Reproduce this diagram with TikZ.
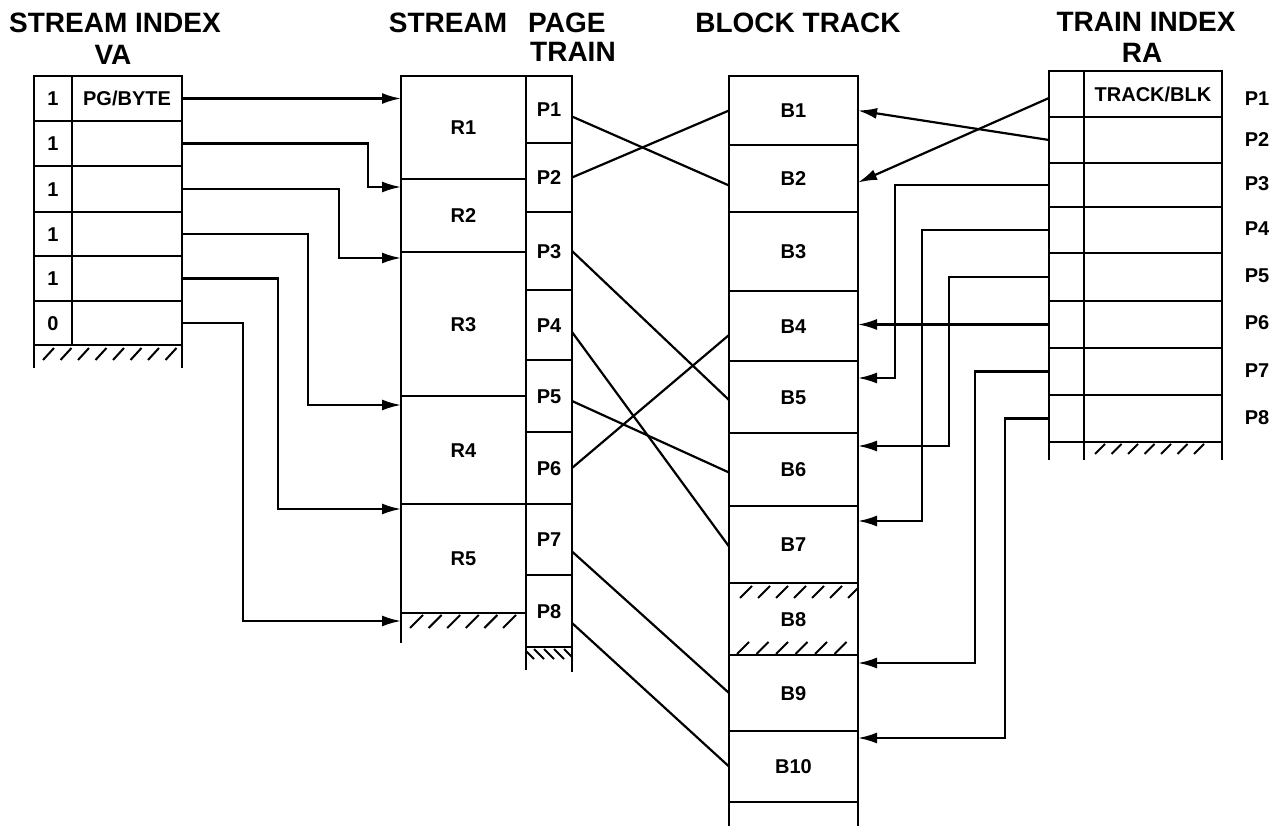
\documentclass[tikz,border=0pt]{standalone}
\usepackage{fontspec}
\setmainfont{Liberation Sans}
\usetikzlibrary{arrows.meta}
\tikzset{
  box/.style={draw, line width=2.6pt},
  cell/.style={draw, line width=2.6pt, inner sep=0pt, outer sep=0pt,
    font=\bfseries\fontsize{20}{20}\selectfont, text height=14.3pt, text depth=0pt},
  conn/.style={line width=2.2pt},
  arr/.style={conn, -{Latex[length=19pt,width=11pt]}},
  title/.style={font=\bfseries\fontsize{28}{28}\selectfont, inner sep=0pt, text height=20pt, text depth=0pt},
  side/.style={font=\bfseries\fontsize{20}{20}\selectfont, inner sep=0pt, text height=14.3pt, text depth=0pt},
  hatch/.style={line width=2pt},
}
\newcommand{\cellbox}[6]{\node[cell, minimum width={(#4-#2)*1pt}, minimum height={(#5-#3)*1pt}] (#1) at ({(#2+#4)/2},{(#3+#5)/2}) {#6};}
\begin{document}
\begin{tikzpicture}[x=1pt,y=-1pt]
\useasboundingbox (0,0) rectangle (1288,826);
\fill[white] (0,0) rectangle (1288,826);

% ---------- titles
\node[title] (tsi) at (115,23) {STREAM INDEX};
\node[title] (tva) at (113,55) {VA};
\node[title] (tst) at (448,23) {STREAM};
\node[title, anchor=west] (tpg) at (528,23) {PAGE};
\node[title, anchor=west] (ttr) at (530,52) {TRAIN};
\node[title] (tbt) at (798,23) {BLOCK TRACK};
\node[title] (tti) at (1146,22) {TRAIN INDEX};
\node[title] (tra) at (1142,53) {RA};

% ---------- stream index VA
\cellbox{c1}{34}{76}{72}{121}{1}
\cellbox{c2}{34}{121}{72}{166}{1}
\cellbox{c3}{34}{166}{72}{212}{1}
\cellbox{c4}{34}{212}{72}{256}{1}
\cellbox{c5}{34}{256}{72}{301}{1}
\cellbox{c6}{34}{301}{72}{345}{0}
\cellbox{s1}{72}{76}{182}{121}{PG/BYTE}
\cellbox{s2}{72}{121}{182}{166}{}
\cellbox{s3}{72}{166}{182}{212}{}
\cellbox{s4}{72}{212}{182}{256}{}
\cellbox{s5}{72}{256}{182}{301}{}
\cellbox{s6}{72}{301}{182}{345}{}
\draw[box] (c6.south west) -- ++(0,23);
\draw[box] (s6.south east) -- ++(0,23);
\foreach \x in {43,60.5,...,166} \draw[hatch] (\x,360) -- ++(11,-12);

% ---------- stream
\cellbox{r1}{401}{76}{526}{179}{R1}
\cellbox{r2}{401}{179}{526}{252}{R2}
\cellbox{r3}{401}{252}{526}{396}{R3}
\cellbox{r4}{401}{396}{526}{504}{R4}
\cellbox{r5}{401}{504}{526}{613}{R5}
\draw[box] (r5.south west) -- ++(0,30);
\foreach \x in {410,428.6,...,504} \draw[hatch] (\x,628) -- ++(13,-13);

% ---------- page train
\cellbox{p1}{526}{76}{572}{143}{P1}
\cellbox{p2}{526}{143}{572}{212}{P2}
\cellbox{p3}{526}{212}{572}{290}{P3}
\cellbox{p4}{526}{290}{572}{360}{P4}
\cellbox{p5}{526}{360}{572}{432}{P5}
\cellbox{p6}{526}{432}{572}{504}{P6}
\cellbox{p7}{526}{504}{572}{575}{P7}
\cellbox{p8}{526}{575}{572}{647}{P8}
\draw[box] (p8.south west) -- ++(0,23);
\draw[box] (p8.south east) -- ++(0,25);
\begin{scope}
  \clip (527,647) rectangle (571,672);
  \foreach \x in {524,534,...,564} \draw[hatch] (\x,649) -- ++(10,10);
\end{scope}

% ---------- block track
\cellbox{b1}{729}{76}{858}{145}{B1}
\cellbox{b2}{729}{145}{858}{212}{B2}
\cellbox{b3}{729}{212}{858}{291}{B3}
\cellbox{b4}{729}{291}{858}{361}{B4}
\cellbox{b5}{729}{361}{858}{433}{B5}
\cellbox{b6}{729}{433}{858}{506}{B6}
\cellbox{b7}{729}{506}{858}{583}{B7}
\cellbox{b8}{729}{583}{858}{655}{B8}
\cellbox{b9}{729}{655}{858}{731}{B9}
\cellbox{b10}{729}{731}{858}{802}{B10}
\draw[box] (b10.south west) -- ++(0,24);
\draw[box] (b10.south east) -- ++(0,24);
\begin{scope}
  \clip (730,584) rectangle (857,654);
  \foreach \x in {740,758,...,850} \draw[hatch] (\x,598) -- ++(12,-12);
  \foreach \x in {737,756.5,...,836} \draw[hatch] (\x,654) -- ++(12,-12);
\end{scope}

% ---------- train index RA
\cellbox{t1}{1049}{71}{1084}{117}{}
\cellbox{t2}{1049}{117}{1084}{163}{}
\cellbox{t3}{1049}{163}{1084}{207}{}
\cellbox{t4}{1049}{207}{1084}{253}{}
\cellbox{t5}{1049}{253}{1084}{301}{}
\cellbox{t6}{1049}{301}{1084}{348}{}
\cellbox{t7}{1049}{348}{1084}{395}{}
\cellbox{t8}{1049}{395}{1084}{442}{}
\cellbox{u1}{1084}{71}{1222}{117}{TRACK/BLK}
\cellbox{u2}{1084}{117}{1222}{163}{}
\cellbox{u3}{1084}{163}{1222}{207}{}
\cellbox{u4}{1084}{207}{1222}{253}{}
\cellbox{u5}{1084}{253}{1222}{301}{}
\cellbox{u6}{1084}{301}{1222}{348}{}
\cellbox{u7}{1084}{348}{1222}{395}{}
\cellbox{u8}{1084}{395}{1222}{442}{}
\draw[box] (t8.south west) -- ++(0,18);
\draw[box] (t8.south east) -- ++(0,18);
\draw[box] (u8.south east) -- ++(0,18);
\foreach \x in {1095,1111.5,...,1208} \draw[hatch] (\x,454) -- ++(10,-10);

\node[side] (l1) at (1257,98) {P1};
\node[side] (l2) at (1257,139) {P2};
\node[side] (l3) at (1257,183) {P3};
\node[side] (l4) at (1257,228) {P4};
\node[side] (l5) at (1257,275) {P5};
\node[side] (l6) at (1257,322) {P6};
\node[side] (l7) at (1257,370) {P7};
\node[side] (l8) at (1257,417) {P8};

% ---------- stream index -> stream
\draw[arr] (s1.east) -- (s1.east -| r1.west);
\draw[arr] (s2.east) -| ([xshift=-33pt,yshift=-8pt]r2.north west) -- ([yshift=-8pt]r2.north west);
\draw[arr] (s3.east) -| ([xshift=-62pt,yshift=-6pt]r3.north west) -- ([yshift=-6pt]r3.north west);
\draw[arr] (s4.east) -| ([xshift=-93pt,yshift=-9pt]r4.north west) -- ([yshift=-9pt]r4.north west);
\draw[arr] (s5.east) -| ([xshift=-123pt,yshift=-5pt]r5.north west) -- ([yshift=-5pt]r5.north west);
\draw[arr] (s6.east) -| ([xshift=-158pt,yshift=-8pt]r5.south west) -- ([yshift=-8pt]r5.south west);

% ---------- page train -> block track
\draw[conn] ([yshift=-7pt]p1.east) -- ([yshift=-7pt]b2.west);
\draw[conn] (p2.east) -- (b1.west);
\draw[conn] (p3.east) -- ([yshift=-3pt]b5.west);
\draw[conn] ([yshift=-7pt]p4.east) -- ([yshift=-2pt]b7.west);
\draw[conn] ([yshift=-5pt]p5.east) -- ([yshift=-3pt]b6.west);
\draw[conn] (p6.east) -- ([yshift=-9pt]b4.west);
\draw[conn] ([yshift=-12pt]p7.east) -- (b9.west);
\draw[conn] ([yshift=-12pt]p8.east) -- (b10.west);

% ---------- train index -> block track
\draw[arr] ([yshift=-4pt]t1.west) -- ([yshift=-4pt]b2.east);
\draw[arr] (t2.west) -- (b1.east);
\draw[arr] (t3.west) -| ([xshift=37pt,yshift=-17pt]b5.north east) -- ([yshift=-17pt]b5.north east);
\draw[arr] (t4.west) -| ([xshift=64pt,yshift=-15pt]b7.north east) -- ([yshift=-15pt]b7.north east);
\draw[arr] (t5.west) -| ([xshift=91pt,yshift=-13pt]b6.north east) -- ([yshift=-13pt]b6.north east);
\draw[arr] (t6.west) -- (t6.west -| b4.east);
\draw[arr] (t7.west) -| ([xshift=117pt,yshift=-8pt]b9.north east) -- ([yshift=-8pt]b9.north east);
\draw[arr] (t8.west) -| ([xshift=147pt,yshift=-7pt]b10.north east) -- ([yshift=-7pt]b10.north east);
\end{tikzpicture}
\end{document}
